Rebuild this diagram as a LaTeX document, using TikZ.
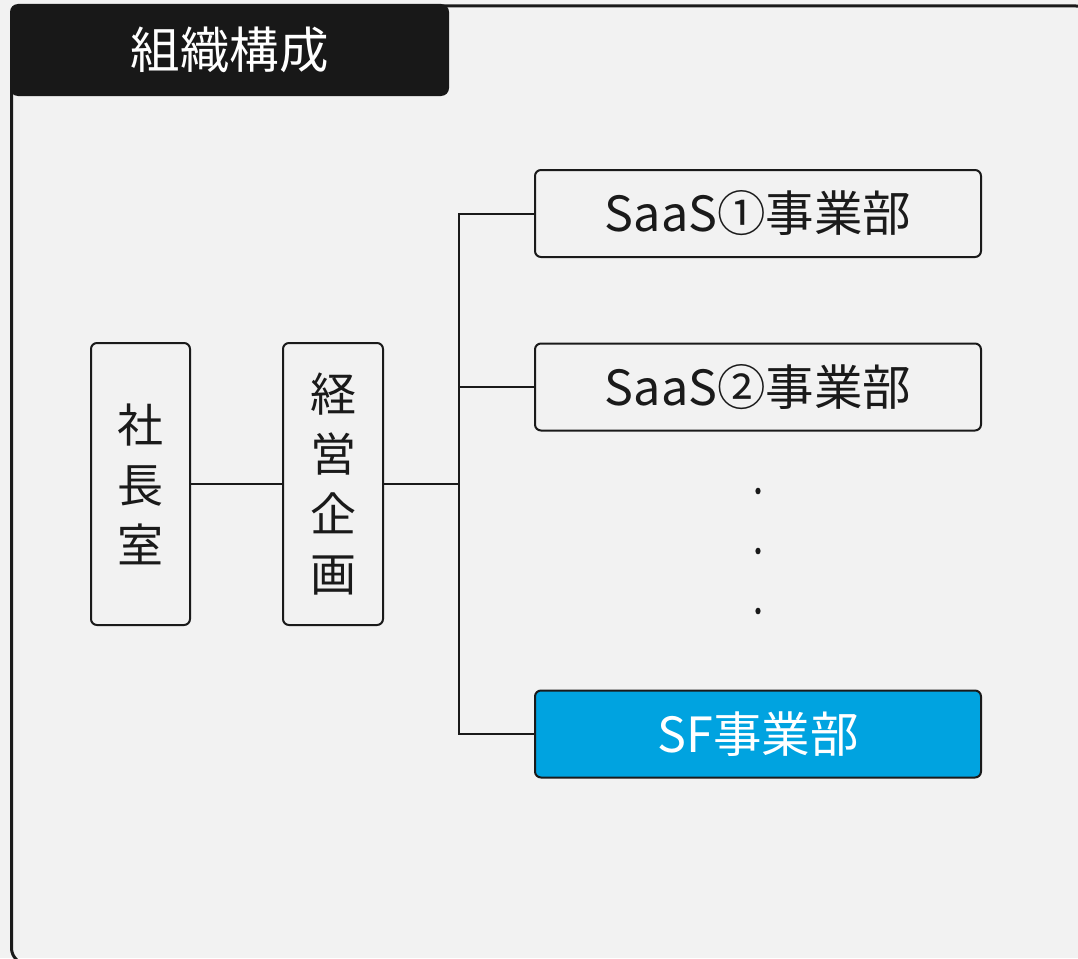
\documentclass[tikz,border=0pt]{standalone}
\usepackage{fontspec}
\setmainfont{Noto Sans CJK JP}
\definecolor{bgc}{HTML}{F2F2F2}
\definecolor{ink}{HTML}{1A1A1A}
\definecolor{titlec}{HTML}{181818}
\definecolor{sfblue}{HTML}{00A3E0}
\tikzset{
  orgbox/.style={draw=ink, line width=2pt, rounded corners=6pt, fill=bgc, inner sep=0pt, align=center, text=ink},
  vbox/.style={orgbox, minimum width=99pt, minimum height=282pt, font=\fontsize{46}{60}\selectfont},
  hbox/.style={orgbox, minimum width=446pt, minimum height=87pt, font=\fontsize{48.5}{56}\selectfont},
  conn/.style={draw=ink, line width=2pt},
  dotmark/.style={fill=ink},
}
\begin{document}
\begin{tikzpicture}[x=1pt,y=-1pt]
\useasboundingbox (0,0) rectangle (1078,958);
\clip (0,0) rectangle (1078,958);
\fill[bgc] (0,0) rectangle (1078,958);
% outer frame
\draw[ink, line width=3pt, rounded corners=16pt] (11.5,6) rectangle (1092,964);
% title
\node[fill=titlec, rounded corners=8pt, minimum width=439pt, minimum height=92pt, inner sep=0pt,
      text=white, font=\fontsize{49.5}{56}\selectfont] (title) at (229.5,50) {組織構成};
% boxes
\node[vbox] (shacho) at (140.5,484) {社\\長\\室};
\node[vbox, minimum width=100pt] (keiei) at (333,484) {経\\営\\企\\画};
\node[hbox] (saas1) at (758,213.5) {SaaS①事業部};
\node[hbox] (saas2) at (758,387) {SaaS②事業部};
\node[hbox, fill=sfblue, text=white] (sf) at (758,734) {SF事業部};
% connectors
\coordinate (trunk) at (459,484);
\draw[conn] (shacho.east) -- (keiei.west);
\draw[conn] (keiei.east) -- (trunk);
\draw[conn] (saas1.west) -- (saas1.west -| trunk) |- (sf.west);
\draw[conn] (saas2.west) -- (saas2.west -| trunk);
% dots
\fill[dotmark] (758,491) ellipse (2.6pt and 3.3pt);
\fill[dotmark] (758,551) ellipse (2.6pt and 3.3pt);
\fill[dotmark] (758,611) ellipse (2.6pt and 3.3pt);
\end{tikzpicture}
\end{document}
